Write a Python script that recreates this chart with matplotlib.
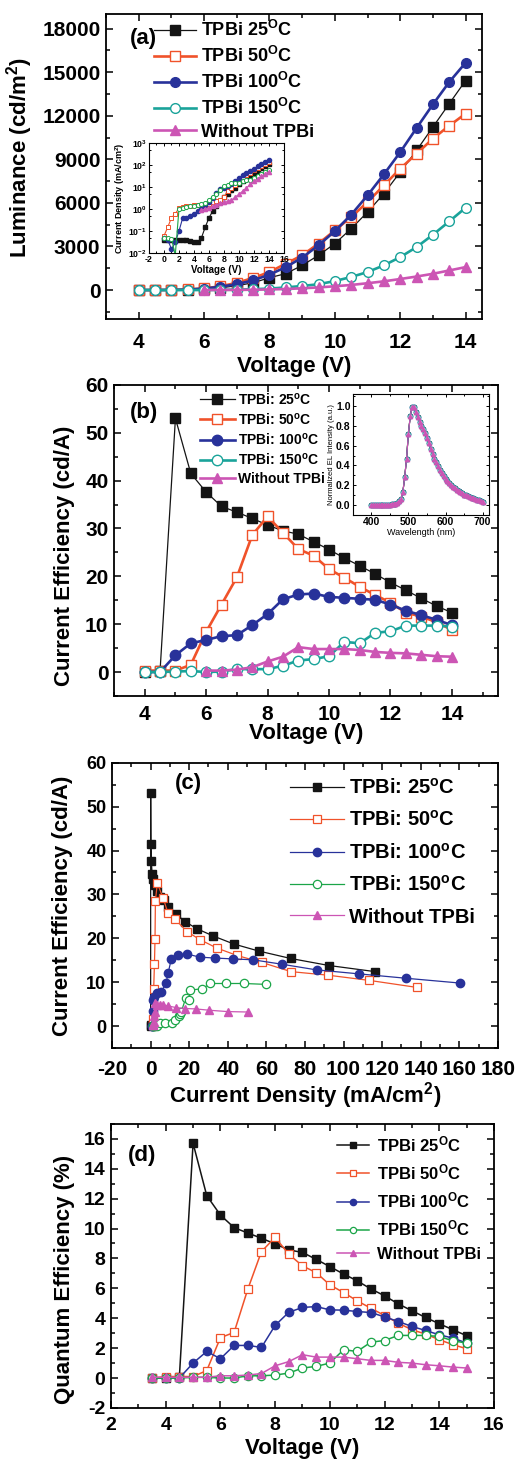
import numpy as np
import matplotlib
matplotlib.use('Agg')
import matplotlib.pyplot as plt
from matplotlib.ticker import MultipleLocator, LogLocator, NullFormatter

plt.rcParams['font.family'] = ['Liberation Sans', 'DejaVu Sans']
plt.rcParams['font.weight'] = 'bold'
plt.rcParams['axes.labelweight'] = 'bold'
plt.rcParams['axes.unicode_minus'] = False
plt.rcParams['mathtext.fontset'] = 'custom'
plt.rcParams['mathtext.rm'] = 'Liberation Sans:bold'
plt.rcParams['mathtext.it'] = 'Liberation Sans:bold'
plt.rcParams['mathtext.bf'] = 'Liberation Sans:bold'

# ---- data ----
volt = [4.0, 4.5, 5.0, 5.5, 6.0, 6.5, 7.0, 7.5, 8.0, 8.5, 9.0, 9.5, 10.0,
        10.5, 11.0, 11.5, 12.0, 12.5, 13.0, 13.5, 14.0]
volt_wo = [6.0, 6.5, 7.0, 7.5, 8.0, 8.5, 9.0, 9.5, 10.0, 10.5, 11.0, 11.5,
           12.0, 12.5, 13.0, 13.5, 14.0]

# (a) luminance, cd/m2
lum_25 = [0, 0, 10, 30, 80, 150, 300, 500, 850, 1130, 1700, 2390, 3200, 4230,
          5370, 6640, 8130, 9620, 11230, 12840, 14430]
lum_50 = [0, 0, 10, 40, 120, 250, 500, 830, 1240, 1820, 2390, 3200, 4110, 5030,
          6060, 7210, 8360, 9390, 10430, 11320, 12150]
lum_100 = [0, 0, 10, 30, 100, 230, 400, 670, 1060, 1580, 2230, 3080, 4060, 5190,
           6520, 7970, 9500, 11160, 12790, 14330, 15660]
lum_150 = [0, 0, 0, 0, 0, 10, 30, 60, 100, 180, 280, 400, 620, 900, 1240, 1700,
           2270, 2960, 3810, 4730, 5670]
lum_wo = [0, 5, 10, 20, 40, 70, 120, 180, 260, 350, 470, 600, 760, 930, 1120,
          1350, 1580]

# (a) inset: current density, mA/cm2
volt_jv = [0.0, 0.5, 1.0, 1.5, 2.0, 2.5, 3.0, 3.5] + volt
volt_jv_wo = [5.0, 5.5] + volt_wo
j_25 = [0.04, 0.04, 0.04, 0.04, 0.04, 0.04, 0.04, 0.035,
        0.03, 0.03, 0.05, 0.15, 0.4, 0.8, 1.3, 2.1, 3.5, 5.0, 7.0, 9.0, 13.0,
        17.9, 23.9, 32.6, 43.1, 56.0, 72.6, 92.4, 116.4]
j_50 = [0.06, 0.15, 0.4, 0.6, 1.1, 1.2, 1.3, 1.4,
        1.5, 1.5, 1.5, 1.5, 1.6, 2.0, 2.3, 2.5, 3.5, 6.6, 9.0, 12.8, 18.9,
        25.6, 34.2, 44.7, 57.6, 72.8, 91.8, 113.4, 138.1]
j_100 = [0.05, 0.04, 0.015, 0.03, 0.1, 0.4, 0.38, 0.5,
         0.6, 0.8, 1.0, 1.5, 2.0, 3.3, 5.5, 8.0, 9.1, 10.7, 14.1, 19.0, 25.6,
         33.4, 42.7, 53.1, 67.9, 86.0, 107.8, 132.2, 160.3]
j_150 = [0.05, 0.05, 0.045, 0.008, 1.0, 1.1, 1.2, 1.3,
         1.35, 1.45, 1.6, 1.8, 2.5, 3.5, 5.0, 7.6, 11.2, 12.5, 14.5, 15.0, 15.9,
         18.2, 19.9, 20.5, 26.7, 31.0, 39.2, 48.4, 59.6]
j_wo = [0.9, 1.0, 1.1, 1.3, 1.5, 1.8, 2.0, 2.2, 2.5, 3.5, 4.7, 6.5, 9.0, 13.3,
        17.9, 23.6, 30.5, 39.9, 50.4]

# (b)/(c) current efficiency, cd/A
ce_25 = [0, 0.3, 53.0, 41.5, 37.6, 34.6, 33.4, 32.1, 30.7, 29.5, 28.8, 27.2,
         25.6, 23.8, 22.2, 20.5, 18.7, 17.1, 15.4, 13.8, 12.4]
ce_50 = [0.3, 0.3, 0.3, 1.5, 8.4, 14.1, 19.8, 28.6, 32.5, 29.1, 25.7, 24.3,
         21.5, 19.7, 17.8, 16.1, 14.5, 12.4, 11.6, 10.4, 8.8]
ce_100 = [0, 0, 3.5, 6.0, 6.7, 7.5, 7.7, 9.8, 12.1, 15.2, 16.2, 16.4, 15.7,
          15.5, 15.3, 15.1, 14.1, 12.8, 11.9, 10.9, 9.8]
ce_150 = [0, 0, 0.1, 0.2, 0, 0.1, 0.6, 0.6, 0.6, 1.3, 2.4, 2.7, 3.3, 6.3, 6.0,
          8.2, 8.5, 9.7, 9.7, 9.7, 9.5]
ce_wo = [0.3, 0.3, 0.5, 1.0, 2.2, 3.2, 5.2, 4.8, 4.8, 4.8, 4.6, 4.2, 4.0, 3.9,
         3.6, 3.3, 3.2]

# (b) inset: normalized EL spectrum
wl = [400, 405, 410, 415, 420, 425, 430, 435, 440, 445, 450, 455, 460, 465,
      470, 475, 480, 485, 490, 495, 500, 505, 510, 515, 520, 525, 530, 535,
      540, 545, 550, 555, 560, 565, 570, 575, 580, 585, 590, 595, 600, 605,
      610, 615, 620, 625, 630, 635, 640, 645, 650, 655, 660, 665, 670, 675,
      680, 685, 690, 695, 700]
el = [0.0, 0.0, 0.0, 0.0, 0.0, 0.0, 0.0, 0.0, 0.0, 0.005, 0.005, 0.01, 0.01,
      0.015, 0.025, 0.04, 0.06, 0.13, 0.28, 0.47, 0.72, 0.9, 0.99, 0.99, 0.94,
      0.89, 0.84, 0.8, 0.77, 0.73, 0.68, 0.63, 0.57, 0.52, 0.47, 0.43, 0.39,
      0.35, 0.32, 0.29, 0.26, 0.24, 0.22, 0.2, 0.185, 0.17, 0.155, 0.14, 0.13,
      0.12, 0.105, 0.1, 0.09, 0.085, 0.075, 0.07, 0.06, 0.055, 0.05, 0.04, 0.03]

# (d) quantum efficiency, %
volt_d = [3.5] + volt + [14.5, 15.0]
eqe_25 = [0, 0, 0.1, 15.7, 12.2, 10.9, 10.06, 9.7, 9.35, 8.97, 8.57, 8.4, 7.94,
          7.45, 6.96, 6.5, 5.96, 5.5, 4.96, 4.5, 4.05, 3.63, 3.23, 2.83]
eqe_50 = [0, 0.1, 0.1, 0.1, 0.5, 2.7, 3.05, 5.94, 8.46, 9.41, 8.28, 7.5, 7.05,
          6.23, 5.72, 5.16, 4.67, 4.18, 3.67, 3.23, 2.94, 2.56, 2.23, 1.96]
eqe_100 = [0, 0, 0, 1.0, 1.78, 1.29, 2.18, 2.18, 2.05, 3.52, 4.4, 4.72, 4.78,
           4.56, 4.54, 4.45, 4.38, 4.09, 3.78, 3.45, 3.18, 2.89, 2.67, 2.34]
eqe_150 = [0, 0, 0, 0.05, 0.05, 0, 0, 0.15, 0.15, 0.2, 0.33, 0.67, 0.78, 1.0,
           1.89, 1.78, 2.4, 2.51, 2.85, 2.85, 2.85, 2.78, 2.49, 2.34]
eqe_wo = [0.05, 0.05, 0.05, 0.05, 0.05, 0.15, 0.15, 0.2, 0.3, 0.82, 1.1, 1.56,
          1.4, 1.4, 1.4, 1.29, 1.18, 1.18, 1.05, 1.0, 0.89, 0.82, 0.73, 0.67]

C_K = '#141414'
C_OR = '#F0522A'
C_BL = '#28329A'
C_TE = '#1AA39A'
C_GR = '#1BA548'
C_MA = '#CC55B4'


def style(ax, fsx, fsy, padx, pady):
    ax.tick_params(which='both', direction='in', top=True, right=True, width=1.1)
    ax.tick_params(which='major', length=5)
    ax.tick_params(which='minor', length=3)
    ax.tick_params(axis='x', labelsize=fsx, pad=padx)
    ax.tick_params(axis='y', labelsize=fsy, pad=pady)
    for s in ax.spines.values():
        s.set_linewidth(1.3)


fig = plt.figure(figsize=(5.17, 14.59), dpi=100)

# ================= (a) =================
ax = fig.add_axes([0.2050, 0.7813, 0.7273, 0.2090])
ms = 6.5
ax.plot(volt, lum_25, '-s', color=C_K, lw=0.9, ms=ms, label='TPBi 25$^{O}$C')
ax.plot(volt, lum_50, '-s', color=C_OR, lw=1.9, ms=ms, mfc='white', mew=1.0,
        label='TPBi 50$^{O}$C')
ax.plot(volt, lum_100, '-o', color=C_BL, lw=1.9, ms=ms + 0.5, label='TPBi 100$^{O}$C')
ax.plot(volt, lum_150, '-o', color=C_TE, lw=1.9, ms=ms + 0.5, mfc='white', mew=1.0,
        label='TPBi 150$^{O}$C')
ax.plot(volt_wo, lum_wo, '-^', color=C_MA, lw=1.9, ms=ms + 0.5, label='Without TPBi')
ax.set_xlim(3, 14.5)
ax.set_ylim(-2000, 19000)
ax.xaxis.set_major_locator(MultipleLocator(2))
ax.xaxis.set_minor_locator(MultipleLocator(1))
ax.yaxis.set_major_locator(MultipleLocator(3000))
ax.yaxis.set_minor_locator(MultipleLocator(1500))
style(ax, 15, 15, 10, 4)
ax.set_xlabel('Voltage (V)', fontsize=16)
ax.set_ylabel('Luminance (cd/m$^{2}$)', fontsize=16)
ax.xaxis.set_label_coords(0.5, -0.121)
ax.yaxis.set_label_coords(-0.189, 0.53)
ax.text(0.064, 0.921, '(a)', transform=ax.transAxes, fontsize=16, va='center')
ax.legend(loc='upper left', bbox_to_anchor=(0.128, 0.98), frameon=False,
          fontsize=13, handlelength=2.3, handletextpad=0.3, labelspacing=0.32,
          borderpad=0, borderaxespad=0)

# inset (a)
ai = fig.add_axes([0.2882, 0.8266, 0.2611, 0.0754])
ims = 3.0
ai.plot(volt_jv, j_25, '-s', color=C_K, lw=0.8, ms=ims)
ai.plot(volt_jv, j_50, '-s', color=C_OR, lw=0.8, ms=ims, mfc='white', mew=0.7)
ai.plot(volt_jv, j_100, '-o', color=C_BL, lw=0.8, ms=ims)
ai.plot(volt_jv, j_150, '-o', color=C_GR, lw=0.8, ms=ims, mfc='white', mew=0.7)
ai.plot(volt_jv_wo, j_wo, '-^', color=C_MA, lw=0.8, ms=ims)
ai.set_yscale('log')
ai.set_xlim(-2, 16)
ai.set_ylim(1e-2, 1e3)
ai.xaxis.set_major_locator(MultipleLocator(2))
ai.xaxis.set_minor_locator(MultipleLocator(1))
ai.yaxis.set_major_locator(LogLocator(base=10, numticks=10))
ai.yaxis.set_minor_locator(LogLocator(base=10, subs=[5.0], numticks=10))
ai.yaxis.set_minor_formatter(NullFormatter())
ai.tick_params(which='both', direction='in', top=True, right=True, width=0.7)
ai.tick_params(which='major', length=2.5, labelsize=6.3, pad=1.5)
ai.tick_params(which='minor', length=1.5)
for s in ai.spines.values():
    s.set_linewidth(0.8)
ai.set_xlabel('Voltage (V)', fontsize=7, labelpad=1)
ai.set_ylabel('Current Density (mA/cm$^{2}$)', fontsize=6.5, labelpad=1)

# ================= (b) =================
bx = fig.add_axes([0.2205, 0.5230, 0.7427, 0.2132])
ms = 7
bx.plot(volt, ce_25, '-s', color=C_K, lw=0.9, ms=ms, label='TPBi: 25$^{o}$C')
bx.plot(volt, ce_50, '-s', color=C_OR, lw=1.9, ms=ms, mfc='white', mew=1.0,
        label='TPBi: 50$^{o}$C')
bx.plot(volt, ce_100, '-o', color=C_BL, lw=1.9, ms=ms + 0.5, label='TPBi: 100$^{o}$C')
bx.plot(volt, ce_150, '-o', color=C_TE, lw=1.9, ms=ms + 0.5, mfc='white', mew=1.0,
        label='TPBi: 150$^{o}$C')
bx.plot(volt_wo, ce_wo, '-^', color=C_MA, lw=1.9, ms=ms + 0.5, label='Without TPBi')
bx.set_xlim(3, 15.5)
bx.set_ylim(-5, 60)
bx.xaxis.set_major_locator(MultipleLocator(2))
bx.xaxis.set_minor_locator(MultipleLocator(1))
bx.yaxis.set_major_locator(MultipleLocator(10))
bx.yaxis.set_minor_locator(MultipleLocator(5))
style(bx, 15, 15, 6.5, 4)
bx.set_xlabel('Voltage (V)', fontsize=16)
bx.set_ylabel('Current Efficiency (cd/A)', fontsize=16)
bx.xaxis.set_label_coords(0.5, -0.087)
bx.yaxis.set_label_coords(-0.102, 0.45)
bx.text(0.042, 0.912, '(b)', transform=bx.transAxes, fontsize=16, va='center')
bx.legend(loc='upper left', bbox_to_anchor=(0.224, 0.98), frameon=False,
          fontsize=10, handlelength=2.5, handletextpad=0.2, labelspacing=0.3,
          borderpad=0, borderaxespad=0)

# inset (b)
bi = fig.add_axes([0.6822, 0.6470, 0.2636, 0.0829])
for col, mk, face in [(C_K, 's', C_K), (C_OR, 's', 'white'), (C_BL, 'o', C_BL),
                      (C_TE, 'o', 'white'), (C_MA, '^', C_MA)]:
    bi.plot(wl, el, '-', marker=mk, color=col, lw=0.8, ms=3.5, mfc=face, mew=0.6)
bi.set_xlim(350, 717)
bi.set_ylim(-0.1, 1.12)
bi.xaxis.set_major_locator(MultipleLocator(100))
bi.xaxis.set_minor_locator(MultipleLocator(50))
bi.yaxis.set_major_locator(MultipleLocator(0.2))
bi.yaxis.set_minor_locator(MultipleLocator(0.1))
bi.yaxis.set_major_formatter(matplotlib.ticker.FormatStrFormatter('%.1f'))
bi.tick_params(which='both', direction='in', top=True, right=True, width=0.7)
bi.tick_params(which='major', length=2.5, labelsize=7.5, pad=1.5)
bi.tick_params(which='minor', length=1.5)
for s in bi.spines.values():
    s.set_linewidth(0.8)
bi.set_xlabel('Wavelength (nm)', fontsize=6.5, fontweight='normal', labelpad=0.5)
bi.set_ylabel('Normalized EL Intensity (a.u.)', fontsize=5.5, fontweight='normal',
              labelpad=1)

# ================= (c) =================
cx = fig.add_axes([0.2166, 0.2817, 0.7466, 0.1955])
ms = 5.5
cx.plot(j_25[8:], ce_25, '-s', color=C_K, lw=0.9, ms=ms, label='TPBi: 25$^{o}$C')
cx.plot(j_50[8:], ce_50, '-s', color=C_OR, lw=0.9, ms=ms, mfc='white', mew=0.9,
        label='TPBi: 50$^{o}$C')
cx.plot(j_100[8:], ce_100, '-o', color=C_BL, lw=0.9, ms=ms + 0.5,
        label='TPBi: 100$^{o}$C')
cx.plot(j_150[8:], ce_150, '-o', color=C_GR, lw=0.9, ms=ms + 0.5, mfc='white',
        mew=0.9, label='TPBi: 150$^{o}$C')
cx.plot(j_wo[2:], ce_wo, '-^', color=C_MA, lw=0.9, ms=ms + 0.5, label='Without TPBi')
cx.set_xlim(-20, 180)
cx.set_ylim(-5, 60)
cx.xaxis.set_major_locator(MultipleLocator(20))
cx.xaxis.set_minor_locator(MultipleLocator(10))
cx.yaxis.set_major_locator(MultipleLocator(10))
cx.yaxis.set_minor_locator(MultipleLocator(5))
style(cx, 15, 13, 9, 4)
cx.set_xlabel('Current Density (mA/cm$^{2}$)', fontsize=16)
cx.set_ylabel('Current Efficiency (cd/A)', fontsize=16)
cx.xaxis.set_label_coords(0.5, -0.112)
cx.yaxis.set_label_coords(-0.101, 0.50)
cx.text(0.163, 0.929, '(c)', transform=cx.transAxes, fontsize=16, va='center')
cx.legend(loc='upper left', bbox_to_anchor=(0.461, 0.948), frameon=False,
          fontsize=14.5, handlelength=2.7, handletextpad=0.25, labelspacing=0.62,
          borderpad=0, borderaxespad=0)

# ================= (d) =================
dx = fig.add_axes([0.2147, 0.0350, 0.7408, 0.1947])
ms = 5.5
dx.plot(volt_d, eqe_25, '-s', color=C_K, lw=1.1, ms=ms, label='TPBi 25$^{O}$C')
dx.plot(volt_d, eqe_50, '-s', color=C_OR, lw=1.1, ms=ms, mfc='white', mew=0.9,
        label='TPBi 50$^{O}$C')
dx.plot(volt_d, eqe_100, '-o', color=C_BL, lw=1.1, ms=ms + 0.5,
        label='TPBi 100$^{O}$C')
dx.plot(volt_d, eqe_150, '-o', color=C_GR, lw=1.1, ms=ms + 0.5, mfc='white',
        mew=0.9, label='TPBi 150$^{O}$C')
dx.plot(volt_d, eqe_wo, '-^', color=C_MA, lw=1.1, ms=ms + 0.5, label='Without TPBi')
dx.set_xlim(2, 16)
dx.set_ylim(-2, 17)
dx.xaxis.set_major_locator(MultipleLocator(2))
dx.xaxis.set_minor_locator(MultipleLocator(1))
dx.yaxis.set_major_locator(MultipleLocator(2))
dx.yaxis.set_minor_locator(MultipleLocator(1))
style(dx, 14, 14, 6.5, 4)
dx.set_xlabel('Voltage (V)', fontsize=16)
dx.set_ylabel('Quantum Efficiency (%)', fontsize=16)
dx.xaxis.set_label_coords(0.5, -0.106)
dx.yaxis.set_label_coords(-0.094, 0.452)
dx.text(0.044, 0.887, '(d)', transform=dx.transAxes, fontsize=16, va='center')
dx.legend(loc='upper left', bbox_to_anchor=(0.590, 0.964), frameon=False,
          fontsize=12, handlelength=1.9, handletextpad=0.5, labelspacing=0.5,
          markerscale=0.75, borderpad=0, borderaxespad=0)

fig.savefig('out.png', dpi=100)
